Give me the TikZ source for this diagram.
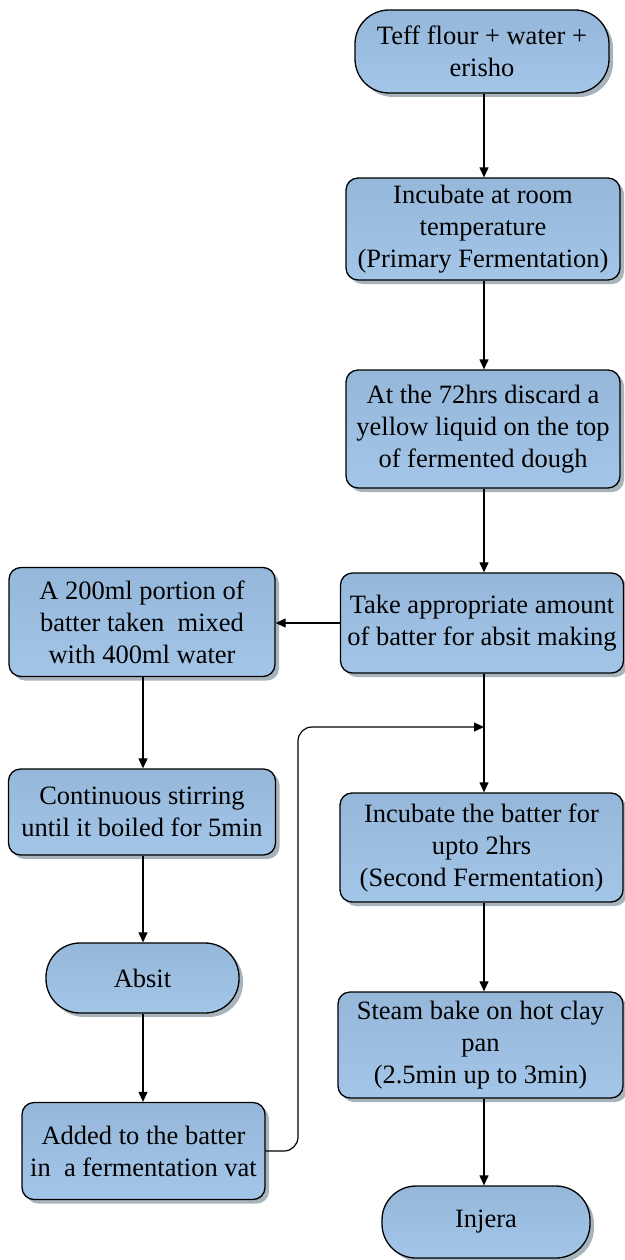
\documentclass[tikz,border=0pt]{standalone}
\usepackage{fontspec}
\setmainfont{Liberation Serif}
\newfontfamily\tnr{Liberation Serif}
\usetikzlibrary{arrows.meta,shadows}
\definecolor{boxtop}{HTML}{95B7DA}
\definecolor{boxbot}{HTML}{A3C5E7}
\definecolor{shade}{HTML}{A7B4BC}
\tikzset{
  box/.style={draw=black, line width=1.3pt, rounded corners=12pt,
    top color=boxtop, bottom color=boxbot,
    drop shadow={shadow xshift=4pt, shadow yshift=-4pt, fill=shade, opacity=1},
    align=center, font=\tnr\fontsize{26.5}{32}\selectfont, inner sep=0pt},
  term/.style={box, rounded corners=34pt},
  arr/.style={line width=1.2pt, -{Triangle[length=10pt,width=9pt]}},
}
\begin{document}
\begin{tikzpicture}[x=1pt,y=-1pt]
\useasboundingbox (0,0) rectangle (624,1260);
\node[term, minimum width=254pt, minimum height=83pt] (teff) at (482,51.5) {Teff flour + water +\\erisho};
\node[box, minimum width=274pt, minimum height=102pt] (inc1) at (483,229) {Incubate at room\\temperature\\(Primary Fermentation)};
\node[box, minimum width=274pt, minimum height=118pt] (disc) at (483,429) {At the 72hrs discard a\\yellow liquid on the top\\of fermented dough};
\node[box, minimum width=283pt, minimum height=100pt] (take) at (482,623) {Take appropriate amount\\of batter for absit making};
\node[box, minimum width=266pt, minimum height=109pt] (a200) at (142,622) {A 200ml portion of\\batter taken~ mixed\\with 400ml water};
\node[box, minimum width=267pt, minimum height=86pt] (cont) at (142,812) {Continuous stirring\\until it boiled for 5min};
\node[term, minimum width=193pt, minimum height=70pt] (absit) at (142.5,978) {Absit};
\node[box, minimum width=243pt, minimum height=97pt] (added) at (143.5,1151) {Added to the batter\\in~ a fermentation vat};
\node[box, minimum width=283pt, minimum height=109pt] (inc2) at (481.5,847.5) {Incubate the batter for\\upto 2hrs\\(Second Fermentation)};
\node[box, minimum width=285pt, minimum height=106pt] (steam) at (480.5,1045) {Steam bake on hot clay\\pan\\(2.5min up to 3min)};
\node[term, minimum width=208pt, minimum height=72pt] (injera) at (486,1222) {Injera};
\coordinate (bend) at (298,727);
\coordinate (merge) at (484,727);
\draw[arr] (teff.south -| 484,0) -- (inc1.north -| 484,0);
\draw[arr] (inc1.south -| 484,0) -- (disc.north -| 484,0);
\draw[arr] (disc.south -| 484,0) -- (take.north -| 484,0);
\draw[arr] (take.west) -- (a200.east |- take.west);
\draw[arr] (a200.south -| 143,0) -- (cont.north -| 143,0);
\draw[arr] (cont.south -| 143,0) -- (absit.north -| 143,0);
\draw[arr] (absit.south -| 143,0) -- (added.north -| 143,0);
\draw[arr] (take.south -| 484,0) -- (inc2.north -| 484,0);
\draw[arr, rounded corners=14pt] (added.east) -| (bend) -- (merge);
\draw[arr] (inc2.south -| 484,0) -- (steam.north -| 484,0);
\draw[arr] (steam.south -| 484,0) -- (injera.north -| 484,0);
\end{tikzpicture}
\end{document}
